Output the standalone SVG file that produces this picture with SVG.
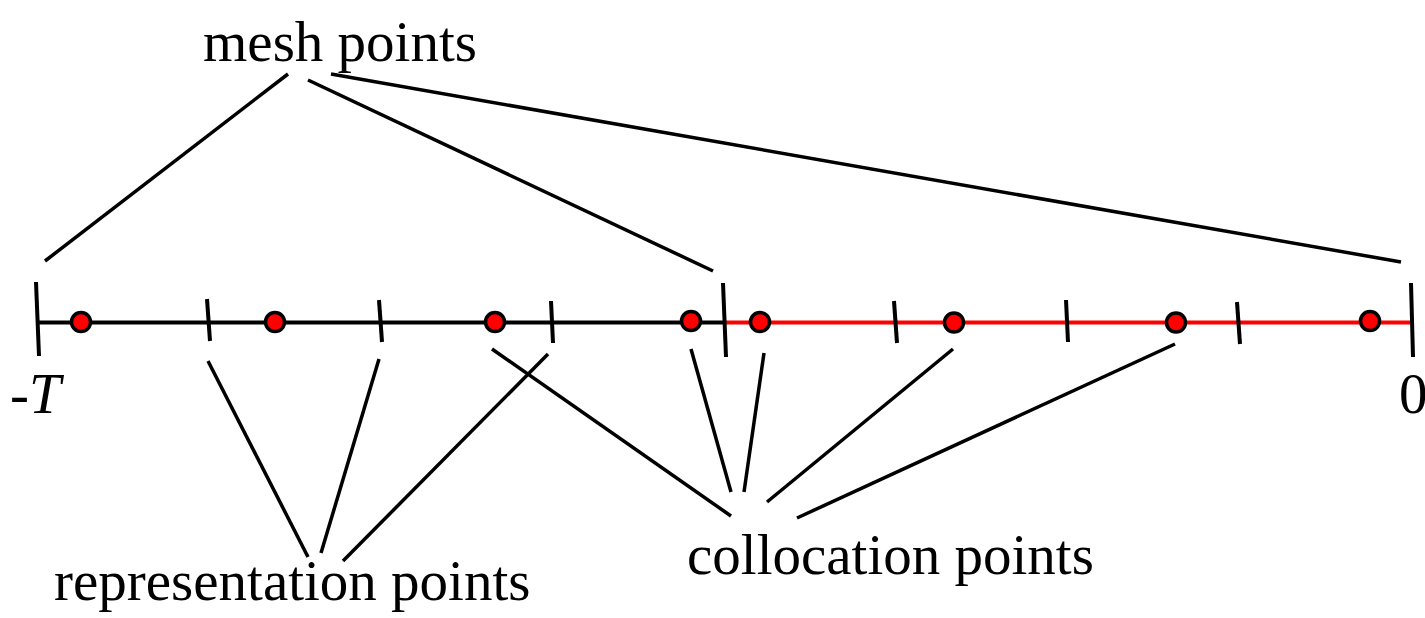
<svg xmlns="http://www.w3.org/2000/svg" width="1425" height="618" viewBox="0 0 1425 618">
  <style>
    .lbl { font-family: "Liberation Serif", "Times New Roman", serif; font-size: 57px; fill: #000; }
    .it { font-style: italic; }
    .ln { stroke: #000; stroke-width: 3.5; fill: none; }
    .axis-k { stroke: #000; stroke-width: 4; }
    .axis-r { stroke: #ff0000; stroke-width: 4; }
    .tick { stroke: #000; stroke-width: 4; }
    .pt { fill: #ff0000; stroke: #000; stroke-width: 3.5; }
  </style>
  <rect width="1425" height="618" fill="#fff"/>

  <!-- time axis: black part on [-T, mid], red part on [mid, 0] -->
  <g id="axis">
    <line class="axis-k" x1="38" y1="322.5" x2="724" y2="322.5"/>
    <line class="axis-r" x1="724" y1="322.5" x2="1411" y2="322.5"/>
  </g>

  <g id="ticks">
    <line class="tick" x1="36" y1="282" x2="39" y2="356"/>
    <line class="tick" x1="207" y1="299" x2="210" y2="341"/>
    <line class="tick" x1="379" y1="300" x2="382" y2="342"/>
    <line class="tick" x1="551" y1="301" x2="553" y2="343"/>
    <line class="tick" x1="723" y1="283" x2="726" y2="357"/>
    <line class="tick" x1="894" y1="301" x2="897" y2="343"/>
    <line class="tick" x1="1066" y1="300" x2="1068" y2="342"/>
    <line class="tick" x1="1237" y1="302" x2="1240" y2="344"/>
    <line class="tick" x1="1411" y1="283" x2="1413" y2="357"/>
  </g>

  <g id="points">
    <circle class="pt" cx="81" cy="322" r="9.5"/>
    <circle class="pt" cx="275" cy="322" r="9.5"/>
    <circle class="pt" cx="495" cy="322" r="9.5"/>
    <circle class="pt" cx="691" cy="321" r="9.5"/>
    <circle class="pt" cx="760" cy="322" r="9.5"/>
    <circle class="pt" cx="954" cy="322.5" r="9.5"/>
    <circle class="pt" cx="1176" cy="322.5" r="9.5"/>
    <circle class="pt" cx="1370" cy="321" r="9.5"/>
  </g>

  <!-- leader lines from the labels -->
  <g id="connectors">
    <line class="ln" x1="288" y1="74" x2="45" y2="261"/>
    <line class="ln" x1="308" y1="80" x2="713" y2="271"/>
    <line class="ln" x1="331" y1="74" x2="1401" y2="262"/>

    <line class="ln" x1="208" y1="361" x2="308" y2="557"/>
    <line class="ln" x1="379" y1="359" x2="321" y2="553"/>
    <line class="ln" x1="548" y1="354" x2="343" y2="561"/>

    <line class="ln" x1="492" y1="349" x2="731" y2="516"/>
    <line class="ln" x1="691" y1="349" x2="731" y2="492"/>
    <line class="ln" x1="764" y1="353" x2="744" y2="492"/>
    <line class="ln" x1="953" y1="349" x2="767" y2="502"/>
    <line class="ln" x1="1175" y1="344" x2="797" y2="518"/>
  </g>

  <g id="label-mesh"><text class="lbl" x="203" y="61">mesh points</text></g>
  <g id="label-repr"><text class="lbl" x="54" y="600">representation points</text></g>
  <g id="label-coll"><text class="lbl" x="687" y="574">collocation points</text></g>
  <g id="label-start"><text class="lbl it" x="10" y="413">-T</text></g>
  <g id="label-end"><text class="lbl" x="1399" y="413">0</text></g>
</svg>
